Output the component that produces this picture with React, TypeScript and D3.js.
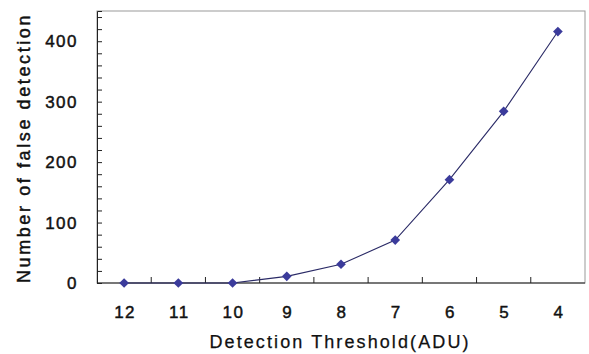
import React, { useRef, useEffect } from "react";
import * as d3 from "d3";

const thresholds = ["12", "11", "10", "9", "8", "7", "6", "5", "4"];
const falseDetections = [0, 0, 0, 11, 31, 71, 171, 284, 416];
const yTicks = [0, 100, 200, 300, 400];

const W = 589;
const H = 354;
const margin = { top: 11, right: 4, bottom: 71, left: 97 };

function App() {
  const svgRef = useRef<SVGSVGElement>(null);

  useEffect(() => {
    const svg = d3.select(svgRef.current);
    svg.selectAll("*").remove();

    const x = d3
      .scaleBand()
      .domain(thresholds)
      .range([margin.left, W - margin.right]);
    const y = d3
      .scaleLinear()
      .domain([0, 450])
      .range([H - margin.bottom, margin.top]);

    const font = "'Liberation Sans', Arial, sans-serif";
    // slightly heavier text, like the original
    const txt = (sel: any, size: number, spacing: number) =>
      sel
        .attr("font-family", font)
        .attr("font-size", size)
        .attr("letter-spacing", spacing)
        .attr("fill", "#111")
        .attr("stroke", "#111")
        .attr("stroke-width", 0.45);

    // frame (top & right in grey)
    svg
      .append("rect")
      .attr("x", margin.left)
      .attr("y", margin.top)
      .attr("width", W - margin.right - margin.left)
      .attr("height", H - margin.bottom - margin.top)
      .attr("fill", "#fff")
      .attr("stroke", "#999")
      .attr("stroke-width", 1);

    // y axis with minor ticks pointing inward
    const yAxis = d3
      .axisRight(y)
      .tickValues(d3.range(0, 460, 20))
      .tickSize(5)
      .tickFormat(() => "");
    const gy = svg
      .append("g")
      .attr("transform", `translate(${margin.left},0)`)
      .call(yAxis);
    gy.select(".domain").attr("stroke", "#222");
    gy.selectAll(".tick line").attr("stroke", "#222");

    svg
      .append("g")
      .selectAll("text")
      .data(yTicks)
      .enter()
      .append("text")
      .attr("x", 78)
      .attr("y", (d) => y(d))
      .attr("dy", "0.36em")
      .attr("text-anchor", "end")
      .call(txt, 17, 1.5)
      .text((d) => d);

    // x axis: ticks at category boundaries
    const gx = svg.append("g");
    gx.append("line")
      .attr("x1", margin.left)
      .attr("x2", W - margin.right)
      .attr("y1", y(0))
      .attr("y2", y(0))
      .attr("stroke", "#222");
    gx.selectAll("line.tk")
      .data(thresholds.slice(1))
      .enter()
      .append("line")
      .attr("class", "tk")
      .attr("x1", (d) => x(d)!)
      .attr("x2", (d) => x(d)!)
      .attr("y1", y(0))
      .attr("y2", y(0) - 6)
      .attr("stroke", "#222");
    gx.selectAll("text")
      .data(thresholds)
      .enter()
      .append("text")
      .attr("x", (d) => x(d)! + x.bandwidth() / 2 + 1)
      .attr("y", 318)
      .attr("text-anchor", "middle")
      .call(txt, 17, 1.5)
      .text((d) => d);

    // line + markers
    const line = d3
      .line<number>()
      .x((_, i) => x(thresholds[i])! + x.bandwidth() / 2)
      .y((d) => y(d));
    svg
      .append("path")
      .datum(falseDetections)
      .attr("d", line)
      .attr("fill", "none")
      .attr("stroke", "#2a2a66")
      .attr("stroke-width", 1.1);

    const diamond = d3.symbol().type(d3.symbolDiamond2).size(60);
    svg
      .append("g")
      .selectAll("path")
      .data(falseDetections)
      .enter()
      .append("path")
      .attr("d", diamond)
      .attr(
        "transform",
        (d, i) =>
          `translate(${x(thresholds[i])! + x.bandwidth() / 2},${y(d)})`
      )
      .attr("fill", "#3b3b9b");

    // axis titles
    svg
      .append("text")
      .attr("x", (margin.left + W - margin.right) / 2 - 1)
      .attr("y", 348)
      .attr("text-anchor", "middle")
      .call(txt, 18, 2.1)
      .attr("stroke-width", 0.25)
      .text("Detection Threshold(ADU)");

    svg
      .append("text")
      .attr("transform", `translate(30,${(margin.top + y(0)) / 2 + 1}) rotate(-90)`)
      .attr("text-anchor", "middle")
      .call(txt, 18, 2.6)
      .text("Number of false detection");
  }, []);

  return (
    <svg
      ref={svgRef}
      width={W}
      height={H}
      style={{ position: "absolute", left: 0, top: 0, background: "#fff" }}
    />
  );
}

export default App;
